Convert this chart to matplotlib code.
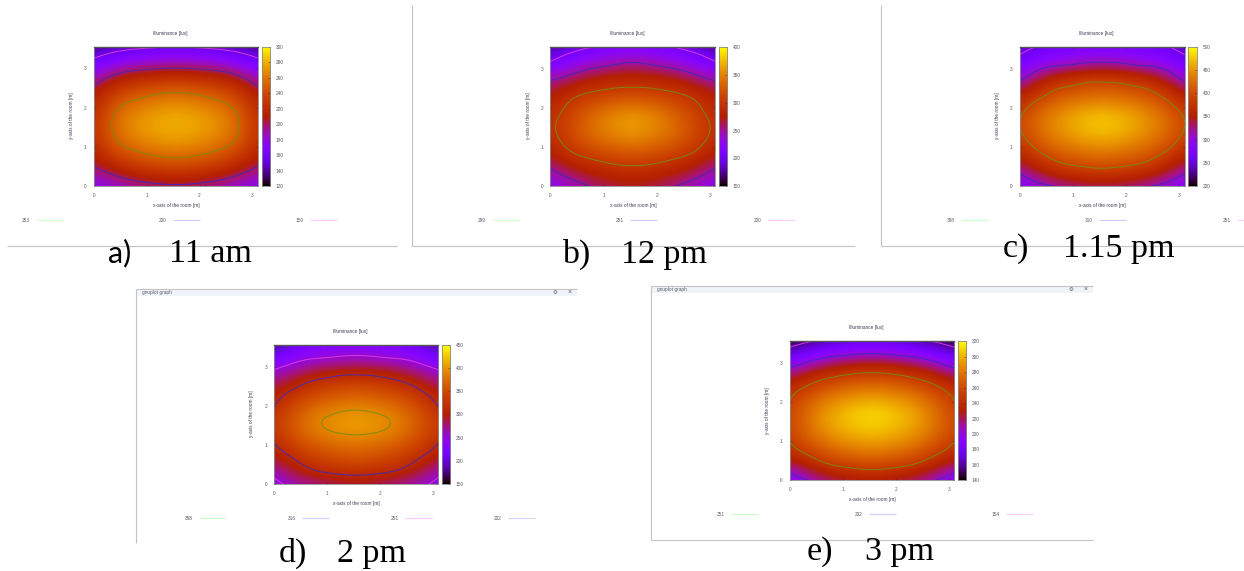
import numpy as np
import matplotlib
matplotlib.use("Agg")
import matplotlib.pyplot as plt
import matplotlib.tri as mtri
from matplotlib.colors import ListedColormap
from matplotlib.patches import Rectangle

W, H = 1244, 571
X_MAX, Y_MAX = 3.1, 3.55
X_GRID = [0, 0.3875, 0.775, 1.1625, 1.55, 1.9375, 2.325, 2.7125, 3.1]
Y_GRID = [0, 0.44375, 0.8875, 1.33125, 1.775, 2.21875, 2.6625, 3.10625, 3.55]

TITLE = "Illuminance [lux]"
XLABEL = "x-axis of the room [m]"
YLABEL = "y-axis of the room [m]"

lux_a = [
    [172, 180, 188, 194, 197, 194, 188, 180, 172],
    [197, 212, 225, 232, 235, 232, 225, 212, 197],
    [215, 240, 252, 259, 262, 259, 252, 240, 215],
    [224, 254, 268, 275, 278, 275, 268, 254, 224],
    [222, 254, 268, 275, 279, 275, 268, 254, 222],
    [212, 240, 252, 259, 262, 259, 252, 240, 212],
    [192, 214, 225, 230, 232, 230, 225, 214, 192],
    [160, 175, 184, 188, 190, 188, 184, 175, 160],
    [135, 140, 145, 148, 150, 148, 145, 140, 135],
]
lux_b = [
    [222, 238, 252, 263, 268, 263, 252, 238, 222],
    [250, 270, 282, 290, 293, 290, 282, 270, 250],
    [275, 299, 313, 324, 330, 324, 313, 299, 275],
    [292, 315, 338, 352, 360, 352, 338, 315, 292],
    [290, 313, 337, 354, 365, 354, 337, 313, 290],
    [275, 298, 312, 322, 328, 322, 312, 298, 275],
    [254, 268, 280, 286, 289, 286, 280, 268, 254],
    [208, 228, 242, 250, 256, 250, 242, 228, 208],
    [175, 188, 200, 207, 212, 207, 200, 188, 175],
]
lux_c = [
    [275, 300, 315, 325, 330, 325, 315, 300, 275],
    [322, 358, 382, 392, 397, 392, 382, 358, 322],
    [365, 400, 420, 430, 437, 430, 420, 400, 365],
    [392, 428, 448, 465, 472, 465, 448, 428, 392],
    [395, 430, 452, 470, 478, 470, 452, 430, 395],
    [362, 400, 420, 430, 435, 430, 420, 400, 362],
    [311, 352, 380, 392, 397, 392, 380, 352, 311],
    [268, 295, 305, 315, 320, 315, 305, 295, 268],
    [240, 255, 260, 266, 270, 266, 260, 255, 240],
]
lux_d = [
    [238, 262, 270, 280, 285, 280, 270, 262, 238],
    [272, 302, 325, 335, 340, 335, 325, 302, 272],
    [306, 335, 355, 365, 372, 365, 355, 335, 306],
    [328, 362, 386, 399, 403, 399, 386, 362, 328],
    [326, 362, 387, 400, 405, 400, 387, 362, 326],
    [302, 335, 355, 366, 372, 366, 355, 335, 302],
    [272, 295, 315, 327, 332, 327, 315, 295, 272],
    [232, 250, 262, 268, 272, 268, 262, 250, 232],
    [180, 205, 220, 225, 228, 225, 220, 205, 180],
]
lux_e = [
    [184, 204, 216, 222, 225, 222, 216, 204, 184],
    [224, 240, 254, 261, 265, 261, 254, 240, 224],
    [248, 265, 278, 286, 290, 286, 278, 265, 248],
    [257, 279, 296, 304, 308, 304, 296, 279, 257],
    [255, 279, 296, 306, 311, 306, 296, 279, 255],
    [246, 264, 276, 284, 288, 284, 276, 264, 246],
    [220, 236, 248, 255, 258, 255, 248, 236, 220],
    [180, 196, 207, 213, 216, 213, 207, 196, 180],
    [142, 153, 162, 167, 170, 167, 162, 153, 142],
]

cbar_ticks_a = [120, 140, 160, 180, 200, 220, 240, 260, 280, 300]
cbar_ticks_b = [150, 200, 250, 300, 350, 400]
cbar_ticks_c = [200, 250, 300, 350, 400, 450, 500]
cbar_ticks_d = [150, 200, 250, 300, 350, 400, 450]
cbar_ticks_e = [140, 160, 180, 200, 220, 240, 260, 280, 300, 320]

levels_a = [253, 200, 150]
levels_b = [299, 251, 200]
levels_c = [398, 310, 251]
levels_d = [398, 316, 251, 202]
levels_e = [251, 202, 154]

LINE_COLORS = ["#6f8f14", "#3c2abe", "#e23ce0", "#4a2a9e"]
KEY_COLORS = ["#ccffcc", "#ccccff", "#ffccff", "#d8d0f4"]

# gnuplot's default pm3d palette (rgbformulae 7,5,15)
t = np.linspace(0, 1, 256)
gnu = ListedColormap(np.c_[np.sqrt(t), t ** 3, np.clip(np.sin(2 * np.pi * t), 0, 1)])

plt.rcParams["font.family"] = ["Liberation Sans", "DejaVu Sans"]
fig = plt.figure(figsize=(W / 100, H / 100), dpi=100, facecolor="white")
page = fig.add_axes([0, 0, 1, 1], zorder=0)
page.set_xlim(0, W)
page.set_ylim(H, 0)
page.axis("off")

GREY = "#5a5a66"
SMALL = 3.4


def box(l, t_, r, b):
    return [l / W, 1 - b / H, (r - l) / W, (b - t_) / H]


def panel(data, ticks, levels, l, t_, r, b, cb_l, cb_r, title_y, key_xs, key_y):
    z = np.array(data, float)
    ax = fig.add_axes(box(l, t_, r, b), zorder=2)
    dx = X_GRID[1] - X_GRID[0]
    dy = Y_GRID[1] - Y_GRID[0]
    ax.imshow(z, origin="lower", aspect="auto", cmap=gnu, vmin=ticks[0], vmax=ticks[-1],
              extent=(X_GRID[0] - dx / 2, X_GRID[-1] + dx / 2, Y_GRID[0] - dy / 2, Y_GRID[-1] + dy / 2),
              interpolation="bicubic", interpolation_stage="data")
    xx, yy = np.meshgrid(X_GRID, Y_GRID)
    tri = mtri.Triangulation(xx.ravel(), yy.ravel())
    tri_fine, z_fine = mtri.UniformTriRefiner(tri).refine_field(z.ravel(), subdiv=3)
    ax.tricontour(tri_fine, z_fine, levels=sorted(levels), linewidths=0.7, alpha=0.9,
                  colors=[LINE_COLORS[levels.index(v)] for v in sorted(levels)])
    ax.set_xlim(0, X_MAX)
    ax.set_ylim(0, Y_MAX)
    ax.set_xticks([0, 1, 2, 3])
    ax.set_yticks([0, 1, 2, 3])
    ax.tick_params(length=1.5, width=0.4, color="#333333", labelsize=SMALL, pad=5,
                   labelcolor=GREY, direction="in", top=True, right=True)
    for s in ax.spines.values():
        s.set_linewidth(0.6)
        s.set_color("#8a8a8a")
    ax.spines["top"].set_color("#555555")
    ax.spines["top"].set_linewidth(1.0)

    cb = fig.add_axes(box(cb_l, t_, cb_r, b), zorder=2)
    ramp = np.linspace(ticks[0], ticks[-1], 256)[:, None]
    cb.imshow(ramp, origin="lower", aspect="auto", cmap=gnu, vmin=ticks[0], vmax=ticks[-1],
              extent=(0, 1, ticks[0], ticks[-1]))
    cb.set_xticks([])
    cb.yaxis.tick_right()
    cb.set_yticks(ticks)
    cb.tick_params(length=1.5, width=0.4, color="#333333", labelsize=SMALL, pad=4,
                   labelcolor=GREY, direction="in")
    for s in cb.spines.values():
        s.set_linewidth(0.6)
        s.set_color("#8a8a8a")

    xc = (l + r) / 2
    page.text(xc - 5.5, title_y, TITLE, fontsize=SMALL, color="#3c3c55", ha="center", va="center")
    page.text(xc + 0.5, b + 19, XLABEL, fontsize=SMALL, color="#3c3c55", ha="center", va="center")
    page.text(l - 22, (t_ + b) / 2 - 0.5, YLABEL, fontsize=SMALL, color="#3c3c55",
              ha="center", va="center", rotation=90)
    for i, (v, kx) in enumerate(zip(levels, key_xs)):
        page.text(kx - 10.5, key_y + 0.7, str(v), fontsize=SMALL, color=GREY, ha="center", va="center")
        page.plot([kx, min(kx + 26.5, W)], [key_y, key_y], color=KEY_COLORS[i], lw=0.8, solid_capstyle="butt")


panel(lux_a, cbar_ticks_a, levels_a, 93.7, 46.7, 257.7, 186, 261.7, 270.3, 33, [36, 173, 310], 220)
panel(lux_b, cbar_ticks_b, levels_b, 550.3, 47.3, 715.3, 186, 718.7, 727.3, 33, [492, 630, 768], 220)
panel(lux_c, cbar_ticks_c, levels_c, 1019.7, 47, 1184.7, 186, 1188.3, 1197, 33, [961, 1099, 1237], 220)
panel(lux_d, cbar_ticks_d, levels_d, 274, 345, 438.3, 484, 441.7, 450.3, 331, [199, 302, 405, 508], 517.7)
panel(lux_e, cbar_ticks_e, levels_e, 789.7, 341.3, 954, 480.3, 957.7, 966.3, 327, [731, 869, 1006], 514)

# window frames left from the screenshots
FRAME = "#c4c4c4"
for xs, ys in [
    ((7, 397), (245.7, 245.7)),
    ((411.5, 411.5), (5, 245.7)), ((411.5, 855), (245.7, 245.7)),
    ((880.5, 880.5), (5, 245.7)), ((880.5, 1244), (245.7, 245.7)),
    ((135.5, 135.5), (288.5, 543)), ((135.5, 577), (288.5, 288.5)),
    ((650.5, 650.5), (285.5, 539.5)), ((650.5, 1093), (285.5, 285.5)), ((650.5, 1093), (539.5, 539.5)),
]:
    page.plot(xs, ys, color=FRAME, lw=0.8, solid_capstyle="butt")

for l, r, tp, bt in [(136, 577, 289, 295.5), (651, 1093, 286, 292.5)]:
    page.add_patch(Rectangle((l, tp), r - l, bt - tp, facecolor="#f0f4f8", edgecolor="none"))
    page.text(l + 6, (tp + bt) / 2, "gnuplot graph", fontsize=SMALL, color=GREY, va="center")
    page.text(r - 22, (tp + bt) / 2, "\u2699", fontsize=4, color=GREY, va="center", ha="center")
    page.text(r - 7, (tp + bt) / 2, "\u00d7", fontsize=5, color=GREY, va="center", ha="center")

# captions
SERIF = "Liberation Serif"
page.text(108, 262, "a)", fontsize=22, family="Lato", color="black", va="baseline")
page.text(169, 262, "11 am", fontsize=24.5, family=SERIF, color="black", va="baseline")
for x, y, s in [(562, 262.6, "b)"), (1003, 256.7, "c)"), (279, 562, "d)"), (807, 560, "e)")]:
    page.text(x, y, s, fontsize=24.5, family=SERIF, color="black", va="baseline")
for x, y, s in [(621, 262.6, "12 pm"), (1063, 256.7, "1.15 pm"), (337, 562, "2 pm"), (865, 560, "3 pm")]:
    page.text(x, y, s, fontsize=24.5, family=SERIF, color="black", va="baseline")

page.set_xlim(0, W)
page.set_ylim(H, 0)
fig.savefig("out.png", dpi=100, facecolor="white")
